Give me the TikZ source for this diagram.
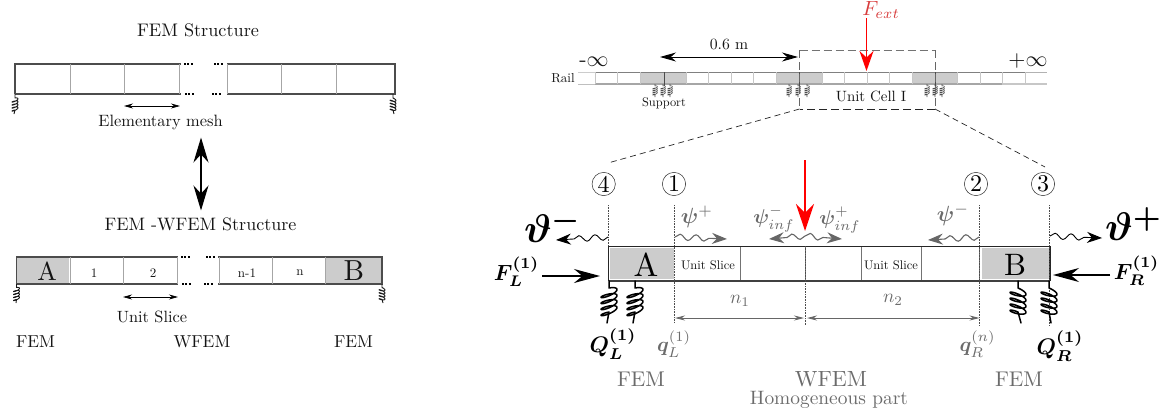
\documentclass[tikz,border=0pt]{standalone}
\usepackage{amsmath}
\usepackage{bm}
\usetikzlibrary{arrows.meta,decorations.pathmorphing}
\definecolor{beamc}{gray}{0.3}
\definecolor{cellc}{gray}{0.65}
\definecolor{fillc}{gray}{0.8}
\definecolor{textg}{gray}{0.42}
\definecolor{arrg}{gray}{0.4}
% style, top, bottom offset x, total length, lead, amplitude, pitch, tilt
\newcommand{\coilspring}[8]{%
  \draw[#1,shift={(#2)}] (0,0) -- (0,#5) -- plot[samples=97,domain=0:1440,variable=\t]
    ({#6*sin(\t)},{#5+#7*\t/360+#8*#6*sin(\t)+0.3*#6*(1-cos(\t))}) -- (#3,#4);}
\tikzset{
  x=1pt,y=-1pt,
  lbl/.style={inner sep=0pt,outer sep=0pt,text=black!92},
  glbl/.style={inner sep=0pt,outer sep=0pt,text=textg},
  beam/.style={draw=beamc,line width=1.3pt},
  cell/.style={draw=cellc,line width=0.9pt},
  greybox/.style={fill=fillc,draw=none},
  dotsline/.style={draw=black,line width=2pt,dash pattern=on 2pt off 1.4pt},
  sprsmall/.style={draw=black!90,line width=0.9pt,line join=round},
  sprtiny/.style={draw=black!70,line width=0.55pt,line join=round},
  sprbig/.style={draw=black,line width=1.5pt,line join=round,line cap=round},
  dimarr/.style={draw=black,line width=0.7pt,{Stealth[length=9pt,width=5pt]}-{Stealth[length=9pt,width=5pt]}},
  dimgrey/.style={draw=arrg,line width=0.9pt,{Stealth[length=10pt,width=5pt]}-{Stealth[length=10pt,width=5pt]}},
  force/.style={draw=black,line width=1.3pt,-{Stealth[length=26pt,width=14pt]}},
  wavek/.style={draw=black,line width=0.9pt,-{Stealth[length=15pt,width=11pt]},decorate,decoration={snake,amplitude=3pt,segment length=16pt,post length=14pt}},
  waveg/.style={draw=arrg,line width=1.1pt,-{Stealth[length=15pt,width=11pt]},decorate,decoration={snake,amplitude=3pt,segment length=16pt,post length=14pt}},
  vdot/.style={draw=black!70,line width=0.6pt,densely dotted},
  circnum/.style={circle,draw=black!85,line width=0.5pt,inner sep=0pt,minimum size=9.7pt,scale=2.4},
}
\begin{document}
\begin{tikzpicture}
\useasboundingbox (0,0) rectangle (1164,415);
% ---------- left upper ----------
\node[lbl,scale=1.82] (t1) at (198,30) {FEM Structure};
\draw[beam] (15,94) -- (15,64) -- (181,64);
\draw[beam] (15,94) -- (181,94);
\draw[beam] (227,64) -- (395,64) -- (395,94) -- (227,94);
\foreach \x in {70.5,124.5,179.5,227.5,281.5,336.5} \draw[cell] (\x,64) -- (\x,94);
\draw[dotsline] (184,64) -- (193,64);
\draw[dotsline] (214,64) -- (224,64);
\draw[dotsline] (185,94) -- (195,94);
\draw[dotsline] (212,94) -- (222,94);
\coordinate (s1a) at (15,94);
\coordinate (s2a) at (393,94);
\coilspring{sprsmall}{s1a}{-1}{20}{4}{3}{3}{-0.3}
\coilspring{sprsmall}{s2a}{1}{20}{4}{3}{3}{0.3}
\coordinate (e1) at (124,106); \coordinate (e2) at (180,106);
\draw[dimarr] (e1) -- (e2);
\node[lbl,scale=1.64] (emesh) at (160.5,122) {Elementary mesh};
\node[inner sep=0pt,outer sep=0pt] (c1) at (201,137) {};
\node[inner sep=0pt,outer sep=0pt] (c2) at (201,211) {};
\draw[draw=black,line width=1.2pt,{Stealth[length=25pt,width=15pt]}-{Stealth[length=25pt,width=15pt]}] (c1) -- (c2);
% ---------- left lower ----------
\node[lbl,scale=1.8] (t2) at (200.5,224) {FEM -WFEM Structure};
\fill[greybox] (17,257.5) rectangle (69,283.5);
\fill[greybox] (326,257.5) rectangle (381,283.5);
\draw[beam] (16.5,284) -- (16.5,257) -- (178,257);
\draw[beam] (16.5,284) -- (178,284);
\draw[beam] (218,257) -- (382,257) -- (382,284) -- (218,284);
\foreach \x in {70,123.5,177,219,272,325.5} \draw[cell] (\x,257) -- (\x,284);
\draw[dotsline] (181,257) -- (190,257);
\draw[dotsline] (206,257) -- (215,257);
\draw[dotsline] (182,284) -- (192,284);
\draw[dotsline] (204,284) -- (214,284);
\coordinate (s3a) at (16.5,284);
\coordinate (s4a) at (382,284);
\coilspring{sprsmall}{s3a}{-0.5}{19}{3.5}{3}{3}{-0.3}
\coilspring{sprsmall}{s4a}{1}{19}{3.5}{3}{3}{0.3}
\node[lbl,scale=2.6] (lA) at (47,271) {A};
\node[lbl,scale=2.9] (lB) at (354,271) {B};
\node[lbl,scale=1.3] (n1) at (94,273) {1};
\node[lbl,scale=1.3] (n2) at (153,273) {2};
\node[lbl,scale=1.3] (n3) at (247,273) {n-1};
\node[lbl,scale=1.3] (n4) at (300,273) {n};
\coordinate (u1) at (123,297); \coordinate (u2) at (178,297);
\draw[dimarr] (u1) -- (u2);
\node[lbl,scale=1.63] (uslice) at (152,317) {Unit Slice};
\node[lbl,scale=1.73] (f1) at (35.5,342) {FEM};
\node[lbl,scale=1.73] (f2) at (202,342) {WFEM};
\node[lbl,scale=1.73] (f3) at (353.5,342) {FEM};
% ---------- rail ----------
\node[lbl,scale=1.3] (rail) at (563,78) {Rail};
\fill[greybox] (640,72) rectangle (686.7,84);
\fill[greybox] (776,72) rectangle (822,84);
\fill[greybox] (912,72) rectangle (957,84);
\draw[draw=black!20,line width=0.8pt] (578,72) -- (595,72);
\draw[draw=black!25,line width=0.8pt] (578,84) -- (595,84);
\draw[draw=black!50,line width=0.8pt] (595,72) -- (1025,72);
\draw[draw=black!30,line width=0.8pt] (1025,72) -- (1047,72);
\draw[draw=black!35,line width=1.2pt] (595,84) -- (1002,84);
\draw[draw=black!22,line width=1.2pt] (1002,84) -- (1047,84);
\foreach \x in {595,617.7,640,686.7,708,731,753.7,776,822,844.7,867,889,912,957,980,1002,1025}
  \draw[draw=black!22,line width=0.7pt] (\x,72) -- (\x,84);
\foreach \x in {664,799.5,935} \draw[draw=black!70,line width=0.8pt] (\x,72) -- (\x,86);
\foreach \x in {655,663,670,789,798,807,927,935,942}{
  \coordinate (tn) at (\x,84);
  \coilspring{sprtiny}{tn}{0}{13}{2}{2.4}{2}{-0.3}}
\node[lbl,scale=1.24] (supp) at (664,103) {Support};
\node[lbl,scale=2.2] (minf) at (594,62) {-$\infty$};
\node[lbl,scale=2.2] (pinf) at (1028,61) {$+\infty$};
\coordinate (d1) at (660,57); \coordinate (d2) at (798,57);
\draw[draw=black,line width=0.9pt,{Stealth[length=16pt,width=9pt]}-{Stealth[length=16pt,width=9pt]}] (d1) -- (d2);
\node[lbl,scale=1.57] (dist) at (729,44) {0.6 m};
\node[lbl,scale=1.49] (ucell) at (871,96) {Unit Cell I};
\coordinate (bx1) at (799.5,50); \coordinate (bx2) at (935,50);
\coordinate (bx3) at (935,109); \coordinate (bx4) at (799.5,109);
\draw[draw=black!55,line width=0.9pt,dash pattern=on 8pt off 4pt] (bx1) -- (bx2);
\draw[draw=black!60,line width=0.7pt,dash pattern=on 8pt off 4pt] (bx2) -- (bx3);
\draw[draw=black!60,line width=0.7pt,dash pattern=on 8pt off 4pt] (bx1) -- (bx4);
\draw[draw=black!85,line width=0.7pt,dash pattern=on 8pt off 4pt] (bx3) -- (bx4);
\coordinate (z1) at (608,163); \coordinate (z2) at (1045,167);
\draw[draw=black!85,line width=0.7pt,dash pattern=on 6pt off 4pt] (bx4) -- (z1);
\draw[draw=black!85,line width=0.7pt,dash pattern=on 6pt off 4pt] (bx3) -- (z2);
\node[inner sep=0pt,outer sep=0pt,text={rgb,255:red,215;green,60;blue,60},scale=2.05] (fext) at (881,10) {$F_{ext}$};
\coordinate (fe1) at (866.5,18); \coordinate (fe2) at (866.5,71);
\draw[draw=red,line width=1.5pt,-{Stealth[length=20pt,width=14pt]}] (fe1) -- (fe2);
% ---------- main beam ----------
\fill[greybox] (609.5,247.5) rectangle (673.5,278.5);
\fill[greybox] (982,247.5) rectangle (1048.5,279);
\foreach \x in {740,805,861,921,979.7} \draw[draw=black!55,line width=0.9pt] (\x,246.5) -- (\x,281);
\draw[draw=black!85,line width=1.2pt] (608.5,281) -- (608.5,246.5) -- (1050,246.5) -- (1050,281);
\draw[draw=black!75,line width=1.3pt] (608.5,281) -- (1050,281);
\draw[vdot] (608.5,205) -- (608.5,246);
\draw[vdot] (674.7,205) -- (674.7,323);
\draw[vdot] (805,246) -- (805,325);
\draw[vdot] (979.7,205) -- (979.7,326);
\draw[vdot] (1049.7,205) -- (1049.7,326);
\node[circnum] (c4) at (603.7,184) {4};
\node[circnum] (c1n) at (674,184) {1};
\node[circnum] (c2n) at (976,184) {2};
\node[circnum] (c3n) at (1043,184) {3};
\node[lbl,scale=1.25] (us1) at (708,265) {Unit Slice};
\node[lbl,scale=1.25] (us2) at (891,265) {Unit Slice};
\node[lbl,scale=3.3,text=black] (bA) at (646,265) {A};
\node[lbl,scale=3.1,text=black] (bB) at (1015,265) {B};
% waves
\coordinate (w1) at (608,237); \coordinate (w1e) at (556,240);
\coordinate (w2) at (675,237); \coordinate (w2e) at (727,239);
\coordinate (w3) at (805,236); \coordinate (w3e) at (769,239);
\coordinate (w4e) at (842,239);
\coordinate (w5) at (979,237); \coordinate (w5e) at (928,240);
\coordinate (w6) at (1050,236); \coordinate (w6e) at (1102,238);
\draw[wavek] (w1) -- (w1e);
\draw[waveg] (w2) -- (w2e);
\draw[waveg] (w3) -- (w3e);
\draw[waveg] (w3) -- (w4e);
\draw[waveg] (w5) -- (w5e);
\draw[wavek] (w6) -- (w6e);
\coordinate (ra) at (805,160); \coordinate (rb) at (805,231);
\draw[draw=red,line width=1.5pt,-{Stealth[length=27pt,width=18pt]}] (ra) -- (rb);
% wave labels
\node[lbl,scale=4,text=black] (thm) at (553,226) {$\bm{\vartheta^{-}}$};
\node[lbl,scale=4,text=black] (thp) at (1134,224) {$\bm{\vartheta^{+}}$};
\node[glbl,scale=2.2] (pp) at (697,217) {$\bm{\psi}^{+}$};
\node[glbl,scale=2.2] (pm) at (953,215) {$\bm{\psi}^{-}$};
\node[glbl,scale=2.0] (pim) at (774,219) {$\bm{\psi}_{inf}^{-}$};
\node[glbl,scale=2.0] (pip) at (840,220) {$\bm{\psi}_{inf}^{+}$};
% forces
\coordinate (fl1) at (542,276); \coordinate (fl2) at (600,276);
\coordinate (fr1) at (1110,275); \coordinate (fr2) at (1053,275);
\draw[force] (fl1) -- (fl2);
\draw[force] (fr1) -- (fr2);
\node[lbl,scale=2.2,text=black] (FL) at (516.5,272) {$\bm{F_L^{(1)}}$};
\node[lbl,scale=2.2,text=black] (FR) at (1136.5,271) {$\bm{F_R^{(1)}}$};
% big springs
\coordinate (b1a) at (609,281);
\coordinate (b2a) at (635,281);
\coordinate (b3a) at (1018,281);
\coordinate (b4a) at (1049,281);
\coilspring{sprbig}{b1a}{-2}{42}{7}{8}{6}{-0.3}
\coilspring{sprbig}{b2a}{-2}{42}{7}{8}{6}{-0.3}
\coilspring{sprbig}{b3a}{3}{42}{7}{8}{6}{0.3}
\coilspring{sprbig}{b4a}{2}{42}{7}{8}{6}{0.3}
% dims
\coordinate (m1) at (675,318); \coordinate (m2) at (804,318);
\coordinate (m3) at (807,318); \coordinate (m4) at (979.5,318);
\draw[dimgrey] (m1) -- (m2);
\draw[dimgrey] (m3) -- (m4);
\node[glbl,scale=1.9] (nn1) at (740,301) {$n_1$};
\node[glbl,scale=1.9] (nn2) at (893,300) {$n_2$};
% bottom labels
\node[lbl,scale=2.25,text=black] (QL) at (613,344) {$\bm{Q_L^{(1)}}$};
\node[lbl,scale=2.25,text=black] (QR) at (1060,346) {$\bm{Q_R^{(1)}}$};
\node[glbl,scale=2.05] (qL) at (674,344) {$\bm{q}_L^{(1)}$};
\node[glbl,scale=2.05] (qR) at (977.5,344) {$\bm{q}_R^{(n)}$};
\node[glbl,scale=2.13] (FF1) at (641,379) {FEM};
\node[glbl,scale=2.2] (FF2) at (831,379) {WFEM};
\node[glbl,scale=2.13] (FF3) at (1019,379) {FEM};
\node[glbl,scale=1.94] (homo) at (829,400) {Homogeneous part};
\end{tikzpicture}
\end{document}
